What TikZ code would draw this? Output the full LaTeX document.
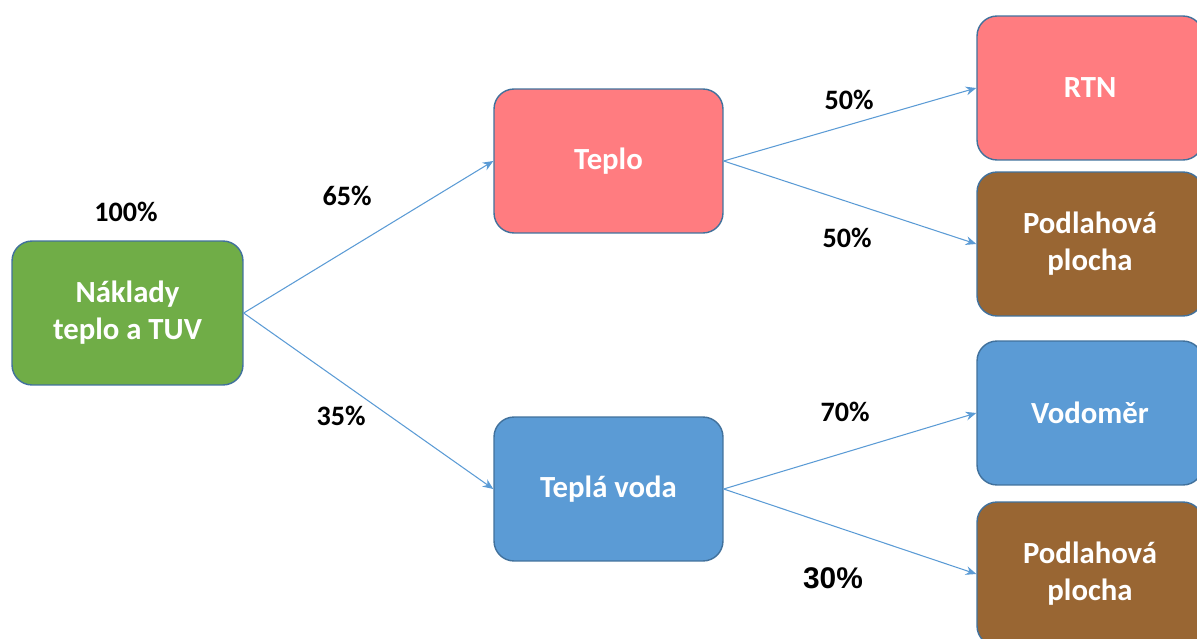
\documentclass[tikz,border=0pt]{standalone}
\usepackage{fontspec}
\setmainfont{Carlito}
\newfontfamily\arialfont{Liberation Sans}
\usetikzlibrary{arrows.meta}

\definecolor{boxgreen}{HTML}{70AD47}
\definecolor{boxpink}{HTML}{FF7C80}
\definecolor{boxblue}{HTML}{5B9BD5}
\definecolor{boxbrown}{HTML}{996633}
\definecolor{boxedge}{HTML}{41719C}
\definecolor{linkblue}{HTML}{5B9BD5}

\begin{document}
\begin{tikzpicture}[x=0.02cm, y=-0.02cm,
    costbox/.style={draw=boxedge, line width=0.8pt, rounded corners=0.4cm,
        minimum height=2.88cm, text=white, align=center,
        font=\fontsize{17.5}{21}\selectfont\bfseries},
    share/.style={font=\fontsize{16}{19}\selectfont\bfseries},
    link/.style={draw=linkblue, line width=0.6pt, -{Stealth[length=6pt,width=5pt]}}]
    % Page frame
    \useasboundingbox (0,0) rectangle (1197,639);
    \clip (0,0) rectangle (1197,639);

    % Cost boxes
    \node[costbox, fill=boxgreen, minimum width=4.62cm] (naklady) at (127.5,313) {Náklady\\teplo a TUV};
    \node[costbox, fill=boxpink, minimum width=4.58cm] (teplo) at (608.5,161) {Teplo};
    \node[costbox, fill=boxblue, minimum width=4.58cm] (voda) at (608.5,489) {Teplá voda};
    \node[costbox, fill=boxpink, minimum width=4.52cm] (rtn) at (1090,88) {RTN};
    \node[costbox, fill=boxbrown, minimum width=4.52cm] (plochaA) at (1090,244) {Podlahová\\plocha};
    \node[costbox, fill=boxblue, minimum width=4.52cm] (vodomer) at (1090,413) {Vodoměr};
    \node[costbox, fill=boxbrown, minimum width=4.52cm] (plochaB) at (1090,574) {Podlahová\\plocha};

    % Links between the boxes
    \draw[link] (naklady.east) -- (teplo.west);
    \draw[link] (naklady.east) -- (voda.west);
    \draw[link] (teplo.east) -- (rtn.west);
    \draw[link] (teplo.east) -- (plochaA.west);
    \draw[link] (voda.east) -- (vodomer.west);
    \draw[link] (voda.east) -- (plochaB.west);

    % Shares
    \node[share] (p100) at (126,212) {100\%};
    \node[share] (p65) at (347,196) {65\%};
    \node[share] (p35) at (341,416) {35\%};
    \node[share] (p50a) at (849,100) {50\%};
    \node[share] (p50b) at (847,238) {50\%};
    \node[share] (p70) at (845,412) {70\%};
    \node[font=\arialfont\fontsize{17}{20}\selectfont\bfseries] (p30) at (833,578) {30\%};
\end{tikzpicture}
\end{document}
